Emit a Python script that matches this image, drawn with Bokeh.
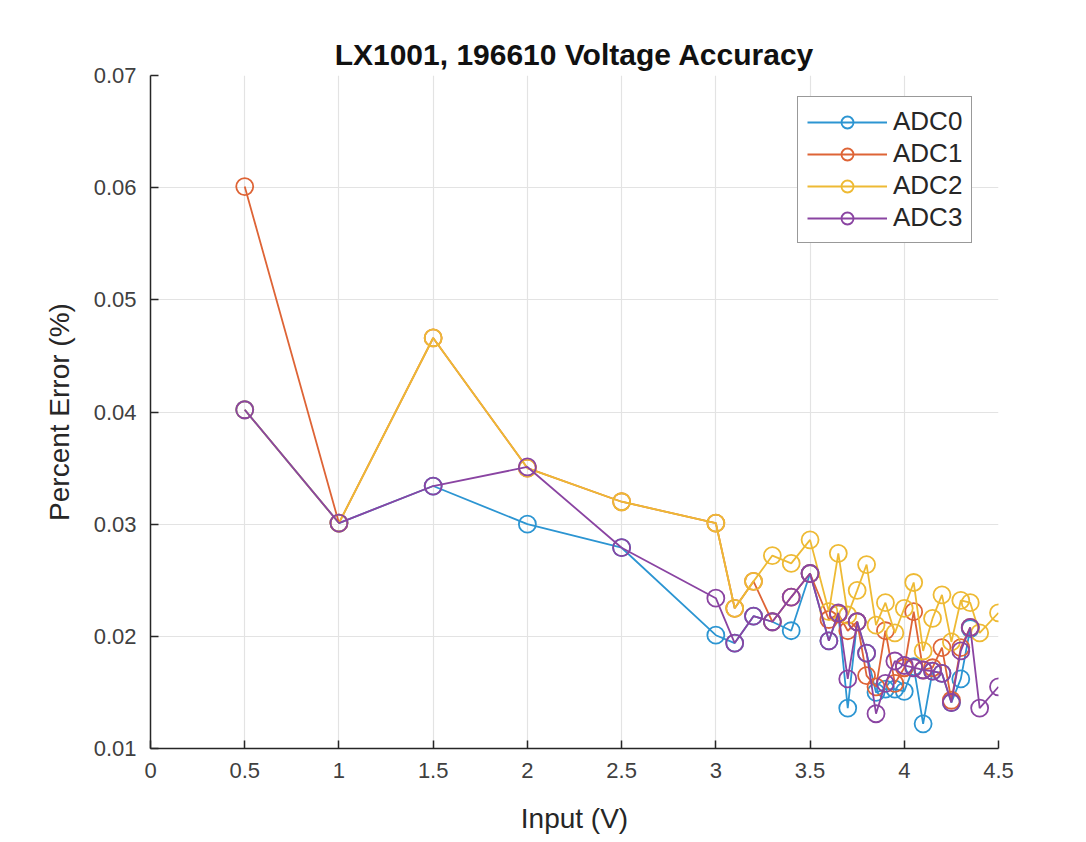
from bokeh.plotting import figure
from bokeh.models import FixedTicker, NumeralTickFormatter, Range1d, Legend, LegendItem
from bokeh.embed import file_html
from bokeh.resources import INLINE

title_text = "LX1001, 196610 Voltage Accuracy"
x_label = "Input (V)"
y_label = "Percent Error (%)"
series_names = ["ADC0", "ADC1", "ADC2", "ADC3"]

x_ticks = [0, 0.5, 1, 1.5, 2, 2.5, 3, 3.5, 4, 4.5]
y_ticks = [0.01, 0.02, 0.03, 0.04, 0.05, 0.06, 0.07]

x_adc0 = [0.5, 1, 1.5, 2, 2.5, 3, 3.1, 3.2, 3.3, 3.4, 3.5, 3.6, 3.65, 3.7, 3.75, 3.8,
          3.85, 3.9, 3.95, 4.0, 4.05, 4.1, 4.15, 4.2, 4.25, 4.3, 4.35]
y_adc0 = [0.0402, 0.0301, 0.0334, 0.0300, 0.0279, 0.0201, 0.0194, 0.0218, 0.0213, 0.0205,
          0.0256, 0.0196, 0.0220, 0.0136, 0.0213, 0.0185, 0.0150, 0.0153, 0.0153, 0.0151,
          0.0173, 0.0122, 0.0169, 0.0167, 0.0141, 0.0162, 0.0207]

x_adc1 = [0.5, 1, 1.5, 2, 2.5, 3, 3.1, 3.2, 3.3, 3.4, 3.5, 3.6, 3.65, 3.7, 3.75, 3.8,
          3.85, 3.9, 3.95, 4.0, 4.05, 4.1, 4.15, 4.2, 4.25, 4.3, 4.35]
y_adc1 = [0.0601, 0.0301, 0.0466, 0.0350, 0.0320, 0.0301, 0.0225, 0.0249, 0.0213, 0.0235,
          0.0256, 0.0215, 0.0220, 0.0205, 0.0213, 0.0165, 0.0155, 0.0205, 0.0158, 0.0172,
          0.0222, 0.0170, 0.0172, 0.0190, 0.0143, 0.0190, 0.0208]

x_adc2 = [0.5, 1, 1.5, 2, 2.5, 3, 3.1, 3.2, 3.3, 3.4, 3.5, 3.6, 3.65, 3.7, 3.75, 3.8,
          3.85, 3.9, 3.95, 4.0, 4.05, 4.1, 4.15, 4.2, 4.25, 4.3, 4.35, 4.4, 4.5]
y_adc2 = [0.0402, 0.0301, 0.0466, 0.0350, 0.0320, 0.0301, 0.0225, 0.0249, 0.0272, 0.0265,
          0.0286, 0.0222, 0.0274, 0.0219, 0.0241, 0.0264, 0.0210, 0.0230, 0.0203, 0.0225,
          0.0248, 0.0187, 0.0216, 0.0237, 0.0195, 0.0232, 0.0230, 0.0203, 0.0221]

x_adc3 = [0.5, 1, 1.5, 2, 2.5, 3, 3.1, 3.2, 3.3, 3.4, 3.5, 3.6, 3.65, 3.7, 3.75, 3.8,
          3.85, 3.9, 3.95, 4.0, 4.05, 4.1, 4.15, 4.2, 4.25, 4.3, 4.35, 4.4, 4.5]
y_adc3 = [0.0402, 0.0301, 0.0334, 0.0351, 0.0279, 0.0234, 0.0194, 0.0218, 0.0213, 0.0235,
          0.0256, 0.0196, 0.0221, 0.0162, 0.0213, 0.0185, 0.0131, 0.0158, 0.0178, 0.0174,
          0.0172, 0.0170, 0.0169, 0.0167, 0.0141, 0.0187, 0.0208, 0.0136, 0.0155]

colors = ["#2C95D2", "#DE6436", "#EEBA34", "#8A44A2"]

FONT = "Liberation Sans"
TXT = "#262626"

p = figure(frame_width=848, frame_height=673,
           x_range=Range1d(0, 4.5), y_range=Range1d(0.01, 0.07),
           output_backend="svg", toolbar_location=None,
           min_border_left=150, min_border_top=75, min_border_right=80, min_border_bottom=88,
           background_fill_color="white", border_fill_color="white")

p.title.text = title_text
p.title.align = "center"
p.title.text_font = FONT
p.title.text_font_size = "30px"
p.title.text_font_style = "bold"
p.title.text_color = "#111111"
p.title.standoff = 10

p.outline_line_color = None

for ax in (p.xaxis[0], p.yaxis[0]):
    ax.axis_line_color = TXT
    ax.axis_line_width = 1.5
    ax.major_tick_line_color = TXT
    ax.major_tick_line_width = 1.5
    ax.major_tick_in = 8
    ax.major_tick_out = 0
    ax.minor_tick_line_color = None
    ax.major_label_text_font = FONT
    ax.major_label_text_font_size = "22px"
    ax.major_label_text_color = "#404040"
    ax.axis_label_text_font = FONT
    ax.axis_label_text_font_size = "28px"
    ax.axis_label_text_font_style = "normal"
    ax.axis_label_text_color = TXT

p.xaxis.ticker = FixedTicker(ticks=x_ticks)
p.yaxis.ticker = FixedTicker(ticks=y_ticks)
p.xaxis.formatter = NumeralTickFormatter(format="0.[00]")
p.yaxis.formatter = NumeralTickFormatter(format="0.00")
p.xaxis.axis_label = x_label
p.yaxis.axis_label = y_label
p.xaxis.major_label_standoff = 14
p.yaxis.major_label_standoff = 14
p.xaxis.axis_label_standoff = 22
p.yaxis.axis_label_standoff = 16

p.xgrid.ticker = FixedTicker(ticks=x_ticks)
p.ygrid.ticker = FixedTicker(ticks=y_ticks)
p.grid.grid_line_color = "#e3e3e3"
p.grid.grid_line_width = 1.2

xs = [x_adc0, x_adc1, x_adc2, x_adc3]
ys = [y_adc0, y_adc1, y_adc2, y_adc3]
items = []
for name, xv, yv, c in zip(series_names, xs, ys, colors):
    r1 = p.line(xv, yv, line_color=c, line_width=1.8)
    r2 = p.scatter(xv, yv, marker="circle", size=17, line_color=c, line_width=1.8,
                   fill_alpha=0)
    items.append(LegendItem(label=name, renderers=[r1, r2]))

legend = Legend(items=items, location=(647, 505))
legend.label_text_font = FONT
legend.label_text_font_size = "26px"
legend.label_text_color = TXT
legend.glyph_width = 80
legend.glyph_height = 30
legend.label_height = 30
legend.label_standoff = 6
legend.spacing = 1
legend.padding = 9
legend.margin = 0
legend.border_line_color = "#333333"
legend.border_line_width = 1.5
legend.background_fill_color = "white"
legend.background_fill_alpha = 1
p.add_layout(legend, "center")

open("out.html", "w").write(file_html(p, INLINE))
